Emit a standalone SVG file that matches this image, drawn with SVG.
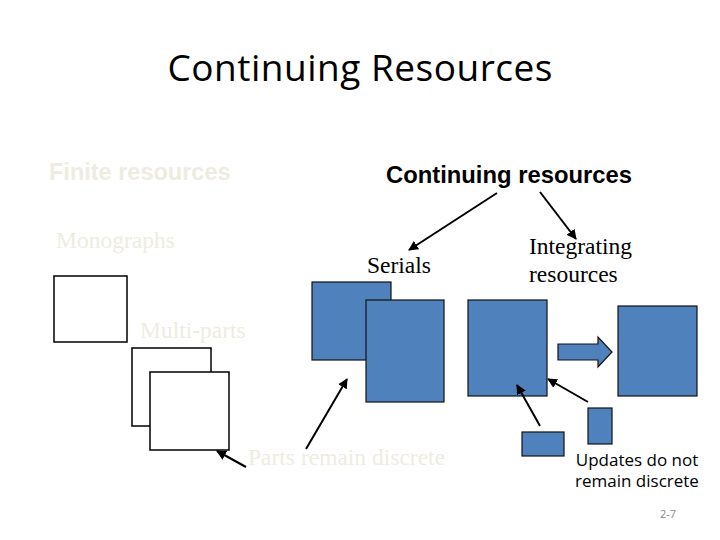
<svg xmlns="http://www.w3.org/2000/svg" width="720" height="540" viewBox="0 0 720 540">
<style>
.grey{fill:#EEECE1}
.tnr{font-family:"Liberation Serif",serif;font-size:23.5px}
.ar{font-family:"Liberation Sans",Arial,sans-serif}
.wbox{fill:#fff;stroke:#000;stroke-width:1.5}
.bbox{fill:#4F81BD;stroke:#111;stroke-width:1.2}
.conn line{stroke:#000;stroke-width:2;marker-end:url(#ah)}
</style>
<defs>
<marker id="ah" viewBox="0 0 10 10" refX="9" refY="5" markerWidth="5" markerHeight="5" orient="auto" markerUnits="strokeWidth">
<path d="M0,0 L10,5 L0,10 z" fill="#000"/>
</marker>
</defs>
<rect width="720" height="540" fill="#fff"/>
<g id="title"><text x="360" y="81" text-anchor="middle" font-family="'Open Sans','Liberation Sans',sans-serif" font-size="37" textLength="385" fill="#000">Continuing Resources</text></g>
<g id="finite"><text x="49" y="180" class="ar grey" font-size="23.5" font-weight="bold">Finite resources</text></g>
<g id="continuing"><text x="386" y="183" class="ar" font-size="23.8" font-weight="bold" fill="#000">Continuing resources</text></g>
<g id="monographs"><text x="56" y="248" class="tnr grey">Monographs</text></g>
<g id="monobox"><rect class="wbox" x="54" y="276" width="73" height="66"/></g>
<g id="multiparts"><text x="140" y="338" class="tnr grey">Multi-parts</text></g>
<g id="multibox1"><rect class="wbox" x="132" y="348" width="79" height="78"/></g>
<g id="multibox2"><rect class="wbox" x="150" y="372" width="79" height="78"/></g>
<g id="serials"><text x="367" y="273" class="tnr" fill="#000">Serials</text></g>
<g id="serialbox1"><rect class="bbox" x="312" y="282" width="79" height="78"/></g>
<g id="serialbox2"><rect class="bbox" x="366" y="300" width="78" height="102"/></g>
<g id="integrating"><text class="tnr" fill="#000"><tspan x="529" y="254">Integrating</tspan><tspan x="529" y="282">resources</tspan></text></g>
<g id="intbox1"><rect class="bbox" x="468" y="300" width="79" height="96"/></g>
<g id="blockarrow"><path class="bbox" d="M558,344 L598,344 L598,337 L612,352 L598,367 L598,360 L558,360 Z"/></g>
<g id="intbox2"><rect class="bbox" x="618" y="306" width="79" height="90"/></g>
<g id="update1"><rect class="bbox" x="522" y="432" width="42" height="24"/></g>
<g id="update2"><rect class="bbox" x="588" y="408" width="24" height="36"/></g>
<g id="parts"><text x="248" y="465" class="tnr grey">Parts remain discrete</text></g>
<g id="updates"><text font-family="'Open Sans','Liberation Sans',sans-serif" font-size="17" fill="#000" text-anchor="middle"><tspan x="637" y="466">Updates do not</tspan><tspan x="637" y="487">remain discrete</tspan></text></g>
<g id="pagenum"><text x="668" y="518" text-anchor="middle" font-family="'Open Sans','Liberation Sans',sans-serif" font-size="11" fill="#888">2-7</text></g>
<g id="connectors" class="conn">
<line x1="497" y1="193" x2="409" y2="250"/>
<line x1="540" y1="192" x2="576" y2="239"/>
<line x1="306" y1="449" x2="347" y2="379"/>
<line x1="246" y1="467" x2="217" y2="451"/>
<line x1="540" y1="426" x2="517" y2="385"/>
<line x1="588" y1="402" x2="548" y2="379"/>
</g>
</svg>
